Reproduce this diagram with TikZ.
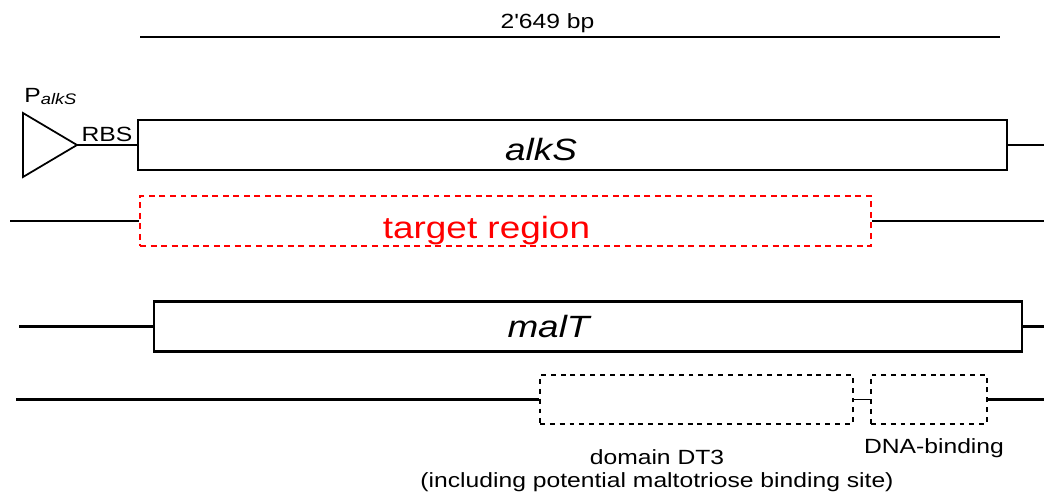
\documentclass[tikz,border=0pt]{standalone}
\usepackage{fontspec}
\newfontfamily\genefont{Liberation Sans}[FakeStretch=1.2]
\usetikzlibrary{positioning}

\begin{document}
\begin{tikzpicture}[
  x=0.02cm, y=-0.02cm,
  genebox/.style={draw, line width=1.3pt, minimum height=1cm, inner sep=0pt},
  targetbox/.style={draw=red, line width=1.3pt, dash pattern=on 3.4pt off 2.6pt, minimum height=1cm, inner sep=0pt},
  domainbox/.style={draw, line width=0.9pt, dash pattern=on 2.8pt off 2.8pt, minimum height=0.98cm, inner sep=0pt},
  dna/.style={line width=1.3pt},
  big/.style={font=\genefont\fontsize{17.5}{21}\selectfont, inner sep=0pt},
  small/.style={font=\genefont\fontsize{11.7}{13}\selectfont, inner sep=0pt, align=center}
]
\useasboundingbox (0,0) rectangle (1044,501);

% length bar
\coordinate (barl) at (140,37);
\coordinate (barr) at (1000,37);
\draw[dna] (barl) -- (barr);
\node[small, anchor=base] (len) at (547.5,28) {2'649 bp};

% promoter, RBS and alkS
\draw[line width=1pt] (23,113) -- (23,177) -- (77,145) -- cycle;
\coordinate (prom) at (77,145);
\node[small, anchor=base west] (pname) at (24,102) {P\raisebox{-1.7pt}{\fontsize{8.7}{10}\selectfont\itshape alkS}};
\node[small, anchor=base] (rbs) at (107,141) {RBS};
\node[genebox, minimum width=17.38cm] (alks) at (572.5,145) {};
\node[big, anchor=base] (alkslbl) at (541,160) {\itshape alkS};
\coordinate (alksr) at (1044,145);
\draw[dna] (prom) -- (alks.west);
\draw[dna] (alks.east) -- (alksr);

% target region
\node[targetbox, minimum width=14.62cm] (tgt) at (505.5,221) {};
\node[big, anchor=base, text=red] (tgtlbl) at (486.5,238) {target region};
\coordinate (tgtl) at (10,221);
\coordinate (tgtr) at (1044,221);
\draw[dna] (tgtl) -- (tgt.west);
\draw[dna] (tgt.east) -- (tgtr);

% malT
\node[genebox, minimum width=17.36cm] (malt) at (588,326.5) {};
\node[big, anchor=base] (maltlbl) at (548.5,337) {\itshape malT};
\coordinate (maltl) at (19,326.5);
\coordinate (maltr) at (1044,326.5);
\draw[dna] (maltl) -- (malt.west);
\draw[dna] (malt.east) -- (maltr);

% malT domains
\node[domainbox, minimum width=6.26cm] (dt3) at (696.5,399.5) {};
\node[domainbox, minimum width=2.32cm] (dnab) at (929,399.5) {};
\coordinate (doml) at (16,399.5);
\coordinate (domr) at (1044,399.5);
\draw[dna] (doml) -- (dt3.west);
\draw[line width=1pt] (dt3.east) -- (dnab.west);
\draw[dna] (dnab.east) -- (domr);
\node[small, anchor=base] (dt3lbl) at (657,487) {domain DT3\\(including potential maltotriose binding site)};
\node[small, anchor=base] (dnablbl) at (934,453) {DNA-binding};

\end{tikzpicture}
\end{document}
